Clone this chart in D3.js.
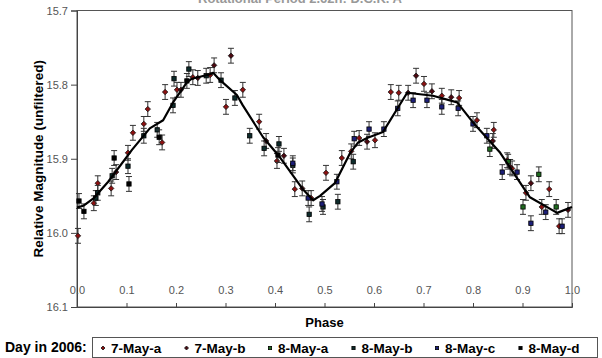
<!DOCTYPE html>
<html>
<head>
<meta charset="utf-8">
<script src="https://cdn.jsdelivr.net/npm/d3@7"></script>
<style>
  body { margin: 0; background: #fff; }
  svg { font-family: Arial, "Liberation Sans", sans-serif; }
</style>
</head>
<body>
<div id="chart"></div>
<script>
const WIDTH = 602
const HEIGHT = 358

// series: [phase, magnitude]
const may7a = [[0.002,16.004],[0.034,15.960],[0.042,15.933],[0.069,15.940],[0.103,15.892],[0.113,15.865],
  [0.135,15.853],[0.143,15.833],[0.172,15.878],[0.178,15.810],[0.202,15.807],[0.234,15.790],[0.269,15.787],
  [0.301,15.830],[0.335,15.807],[0.368,15.850],[0.404,15.903],[0.440,15.941],[0.473,15.953],[0.503,15.919],
  [0.535,15.899],[0.554,15.890],[0.570,15.872],[0.602,15.875],[0.634,15.810],[0.650,15.811],[0.701,15.799],
  [0.737,15.815],[0.772,15.818],[0.808,15.848],[0.842,15.861],[0.869,15.902],[0.879,15.913],[0.907,15.946],
  [0.939,15.965],[0.954,15.941],[0.974,15.991]]
const may7b = [[0.079,15.918],[0.210,15.807],[0.244,15.791],[0.277,15.774],[0.311,15.761],[0.382,15.876],
  [0.418,15.896],[0.455,15.940],[0.586,15.877],[0.669,15.811],[0.685,15.788],[0.717,15.809],[0.756,15.817],
  [0.840,15.876],[0.875,15.911],[0.917,15.933],[0.992,15.969]]
const may8a = [[0.834,15.887],[0.871,15.904],[0.901,15.965],[0.933,15.921],[0.968,15.965]]
const may8b = [[0.038,15.953],[0.042,15.946],[0.071,15.923],[0.103,15.910],[0.135,15.869],[0.162,15.861],
  [0.194,15.828],[0.196,15.792],[0.226,15.779],[0.261,15.788],[0.291,15.794],[0.319,15.818],[0.349,15.869],
  [0.378,15.886],[0.408,15.880],[0.436,15.909],[0.469,15.975],[0.497,15.965],[0.527,15.958],[0.558,15.904]]
const may8c = [[0.436,15.906],[0.467,15.953],[0.495,15.961],[0.525,15.931],[0.560,15.873],[0.590,15.860],
  [0.620,15.860],[0.648,15.832],[0.679,15.821],[0.707,15.821],[0.737,15.830],[0.770,15.832],[0.800,15.853],
  [0.828,15.869],[0.859,15.918],[0.889,15.918],[0.917,15.987],[0.947,15.972],[0.980,15.991]]
const may8d = [[0.004,15.957],[0.014,15.971],[0.075,15.899],[0.105,15.934],[0.166,15.871],[0.222,15.795],
  [0.406,15.895]]

// fitted curve
const fit = [[0,15.966],[0.014,15.963],[0.034,15.953],[0.063,15.931],[0.111,15.888],[0.147,15.859],
  [0.174,15.848],[0.194,15.824],[0.222,15.797],[0.232,15.792],[0.269,15.786],[0.275,15.784],[0.289,15.794],
  [0.323,15.814],[0.335,15.828],[0.376,15.871],[0.410,15.898],[0.455,15.940],[0.477,15.956],[0.491,15.950],
  [0.521,15.933],[0.552,15.892],[0.568,15.878],[0.586,15.872],[0.618,15.864],[0.667,15.811],[0.719,15.815],
  [0.768,15.824],[0.800,15.851],[0.855,15.892],[0.915,15.952],[0.970,15.973],[1.0,15.965]]

const seriesNames = ["7-May-a", "7-May-b", "8-May-a", "8-May-b", "8-May-c", "8-May-d"]
const seriesData = [may7a, may7b, may8a, may8b, may8c, may8d]
const seriesErr = [0.01, 0.01, 0.01, 0.01, 0.01, 0.01]
const xTicks = [0, 0.1, 0.2, 0.3, 0.4, 0.5, 0.6, 0.7, 0.8, 0.9, 1.0]
const yTicks = [15.7, 15.8, 15.9, 16.0, 16.1]

const shapes = ["diamond", "diamond", "square", "square", "square", "square"]
const fills = ["#8b1010", "#4a0810", "#1f6b1f", "#0d2b2b", "#1c1f78", "#000000"]

const margin = { left: 77, right: 30, top: 10.5, bottom: 51 }
const x = d3.scaleLinear().domain([0, 1]).range([margin.left, WIDTH - margin.right])
const y = d3.scaleLinear().domain([15.7, 16.1]).range([margin.top, HEIGHT - margin.bottom])

const svg = d3.select("#chart").append("svg")
  .attr("width", WIDTH)
  .attr("height", HEIGHT)

// title (only its lower edge shows at the top, as in the original)
svg.append("text")
  .attr("x", 300).attr("y", 3)
  .attr("text-anchor", "middle")
  .attr("font-size", 13).attr("font-weight", "bold")
  .attr("fill", "#999")
  .text("Rotational Period 2.62h: D.C.K. A")

// frame
svg.append("rect")
  .attr("x", x(0)).attr("y", y(15.7))
  .attr("width", x(1) - x(0)).attr("height", y(16.1) - y(15.7))
  .attr("fill", "none").attr("stroke", "#555").attr("stroke-width", 1)

// y axis
const yAxis = svg.append("g")
  .attr("transform", `translate(${x(0)},0)`)
  .call(d3.axisLeft(y).tickValues(yTicks).tickFormat(d3.format(".1f")).tickSize(6).tickPadding(3))
yAxis.select(".domain").attr("stroke", "#444")
yAxis.selectAll("line").attr("stroke", "#444")
yAxis.selectAll("text").attr("font-size", 11).attr("fill", "#555").attr("font-family", "Arial, Liberation Sans")

// x axis: tick marks inward, labels drawn above the axis
const xAxis = svg.append("g")
  .attr("transform", `translate(0,${y(16.1)})`)
  .call(d3.axisTop(x).tickValues(xTicks).tickFormat(d3.format(".1f")).tickSize(4).tickPadding(9))
xAxis.select(".domain").attr("stroke", "#444")
xAxis.selectAll("line").attr("stroke", "#444")
xAxis.selectAll("text").attr("font-size", 11).attr("fill", "#555").attr("font-family", "Arial, Liberation Sans")

// axis titles
svg.append("text")
  .attr("x", (x(0) + x(1)) / 2).attr("y", 327)
  .attr("text-anchor", "middle")
  .attr("font-size", 13).attr("font-weight", "bold")
  .text("Phase")

svg.append("text")
  .attr("transform", `translate(43,${(y(15.7) + y(16.1)) / 2}) rotate(-90)`)
  .attr("text-anchor", "middle")
  .attr("font-size", 13.5).attr("font-weight", "bold")
  .text("Relative Magnitude (unfiltered)")

// marker drawing
function marker(g, shape, fill, size) {
  if (shape === "diamond") {
    g.append("path")
      .attr("d", `M0,${-size}L${size},0L0,${size}L${-size},0Z`)
      .attr("fill", fill).attr("stroke", "#111").attr("stroke-width", 0.8)
  } else {
    g.append("rect")
      .attr("x", -size * 0.8).attr("y", -size * 0.8)
      .attr("width", size * 1.6).attr("height", size * 1.6)
      .attr("fill", fill).attr("stroke", "#000").attr("stroke-width", 0.8)
  }
}

// error bars and points
seriesData.forEach((data, i) => {
  const err = seriesErr[i]
  const g = svg.append("g").attr("class", "series")
  const eb = g.selectAll(".err").data(data).enter().append("g").attr("class", "err")
  eb.append("line")
    .attr("x1", d => x(d[0])).attr("x2", d => x(d[0]))
    .attr("y1", d => y(d[1] - err)).attr("y2", d => y(d[1] + err))
    .attr("stroke", "#333").attr("stroke-width", 1)
  eb.append("line")
    .attr("x1", d => x(d[0]) - 3).attr("x2", d => x(d[0]) + 3)
    .attr("y1", d => y(d[1] - err)).attr("y2", d => y(d[1] - err))
    .attr("stroke", "#333").attr("stroke-width", 1)
  eb.append("line")
    .attr("x1", d => x(d[0]) - 3).attr("x2", d => x(d[0]) + 3)
    .attr("y1", d => y(d[1] + err)).attr("y2", d => y(d[1] + err))
    .attr("stroke", "#333").attr("stroke-width", 1)
  g.selectAll(".pt").data(data).enter().append("g")
    .attr("class", "pt")
    .attr("transform", d => `translate(${x(d[0])},${y(d[1])})`)
    .each(function () { marker(d3.select(this), shapes[i], fills[i], 2.7) })
})

// fitted line
svg.append("path")
  .datum(fit)
  .attr("fill", "none")
  .attr("stroke", "#000")
  .attr("stroke-width", 2.2)
  .attr("stroke-linejoin", "round")
  .attr("d", d3.line().x(d => x(d[0])).y(d => y(d[1])))

// legend
svg.append("text")
  .attr("x", 5).attr("y", 352)
  .attr("font-size", 14).attr("font-weight", "bold")
  .text("Day in 2006:")

svg.append("rect")
  .attr("x", 92.5).attr("y", 337.5)
  .attr("width", 505).attr("height", 20)
  .attr("fill", "#fff").attr("stroke", "#555")

const leg = svg.selectAll(".leg").data(seriesNames).enter().append("g")
  .attr("class", "leg")
  .attr("transform", (d, i) => `translate(${103 + 83.5 * i},348)`)
leg.each(function (d, i) { marker(d3.select(this), shapes[i], fills[i], 2) })
leg.append("text")
  .attr("x", 8).attr("y", 4.5)
  .attr("font-size", 13.5).attr("font-weight", "bold")
  .text(d => d)
</script>
</body>
</html>
